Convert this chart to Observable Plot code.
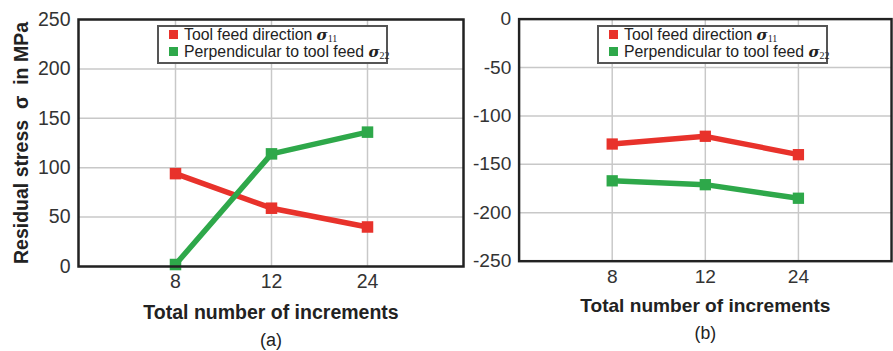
<!DOCTYPE html>
<html><head><meta charset="utf-8">
<script src="https://cdn.jsdelivr.net/npm/d3@7"></script>
<script src="https://cdn.jsdelivr.net/npm/@observablehq/plot@0.6"></script>
<style>
html,body{margin:0;padding:0;background:#fff;overflow:hidden;}
#wrap{position:relative;width:893px;height:351px;overflow:hidden;}
.panel{position:absolute;top:0;z-index:1;}
.legend{position:absolute;z-index:5;top:25px;width:231px;height:39px;border:2px solid #555;background:#fff;
 font-family:"Liberation Sans",Arial,sans-serif;font-size:15.8px;color:#222;padding:0;box-sizing:border-box;}
.legend .row{white-space:nowrap;padding-left:10px;height:17px;line-height:17px;position:relative;}
.legend .row:first-child{margin-top:-1px;}
.legend .sw{display:inline-block;width:9px;height:9px;margin-right:6px;vertical-align:1px;}
.sig{font-family:"DejaVu Serif","Liberation Serif",serif;font-style:italic;font-weight:bold;font-size:15px;}
.sub{font-family:"Liberation Serif",serif;font-size:10px;position:relative;top:2px;}
</style></head>
<body><div id="wrap"></div>
<script>
const increments = ["8", "12", "24"];
const sigma11_a = [94, 59, 40];
const sigma22_a = [2, 114, 136];
const sigma11_b = [-129, -121, -140];
const sigma22_b = [-167, -171, -185];
const seriesNames = ["Tool feed direction", "Perpendicular to tool feed"];
const seriesColors = ["#e8322b", "#2ea84a"];
const ticksA = [0, 50, 100, 150, 200, 250];
const ticksB = [0, -50, -100, -150, -200, -250];

function rows(v11, v22) {
  const r = [];
  increments.forEach((x, i) => r.push({x, y: v11[i], s: seriesNames[0]}));
  increments.forEach((x, i) => r.push({x, y: v22[i], s: seriesNames[1]}));
  return r;
}

function panel(data, ydomain, ticks, opts) {
  return Plot.plot({
    width: opts.width, height: 351,
    marginLeft: opts.ml, marginRight: opts.mr, marginTop: 19, marginBottom: 85,
    style: {fontFamily: "'Liberation Sans', Arial, sans-serif", fontSize: "18px", color: "#333", background: "transparent"},
    x: {type: "point", domain: increments, padding: 1, label: null},
    y: {domain: ydomain, ticks: ticks, label: null},
    color: {domain: seriesNames, range: seriesColors},
    marks: [
      Plot.gridX(increments, {stroke: "#c8c8c8", strokeOpacity: 1, strokeWidth: 1.5}),
      Plot.gridY(ticks, {stroke: "#c8c8c8", strokeOpacity: 1, strokeWidth: 1.5}),
      Plot.axisX({tickSize: 0, tickPadding: 8, fontSize: 19.5, fill: "#333"}),
      Plot.axisY({ticks: ticks, tickSize: 0, tickPadding: 8, fontSize: 19.5, fill: "#333", tickFormat: d => String(d)}),
      Plot.line(data, {x: "x", y: "y", z: "s", stroke: "s", strokeWidth: 5.5}),
      Plot.dot(data, {x: "x", y: "y", fill: "s", symbol: "square", r: 6.5, stroke: null}),
      Plot.frame({stroke: "#222", strokeWidth: 2.5}),
      Plot.text([opts.xlabel], {frameAnchor: "bottom", dy: 52, text: d => d, fontWeight: "bold", fontSize: 19.5, fill: "#222"}),
      Plot.text([opts.tag], {frameAnchor: "bottom", dy: 79, text: d => d, fontSize: 18, fill: "#222"}),
      ...(opts.ylabel ? [Plot.text([opts.ylabel], {frameAnchor: "left", dx: -57, rotate: -90, textAnchor: "middle", text: d => d, fontWeight: "bold", fontSize: 19.5, fill: "#222"})] : [])
    ]
  });
}

function legend(left) {
  const L = document.createElement("div");
  L.className = "legend";
  L.style.left = left + "px";
  L.innerHTML =
    `<div class="row"><span class="sw" style="background:${seriesColors[0]}"></span>${seriesNames[0]} <span class="sig">σ</span><span class="sub">11</span></div>` +
    `<div class="row"><span class="sw" style="background:${seriesColors[1]}"></span>${seriesNames[1]} <span class="sig">σ</span><span class="sub">22</span></div>`;
  return L;
}

const wrap = document.getElementById("wrap");
const pa = panel(rows(sigma11_a, sigma22_a), [0, 250], ticksA,
  {width: 470, ml: 78, mr: 7, xlabel: "Total number of increments", tag: "(a)", ylabel: "Residual stress  σ  in MPa"});
const pb = panel(rows(sigma11_b, sigma22_b), [-250, 0], ticksB,
  {width: 452, ml: 70, mr: 2, xlabel: "Total number of increments", tag: "(b)"});
const da = document.createElement("div"); da.className = "panel"; da.style.left = "0px"; da.appendChild(pa);
const db = document.createElement("div"); db.className = "panel"; db.style.left = "450px"; db.appendChild(pb);
wrap.appendChild(da); wrap.appendChild(db);
wrap.appendChild(legend(157));
wrap.appendChild(legend(597));
</script></body></html>
